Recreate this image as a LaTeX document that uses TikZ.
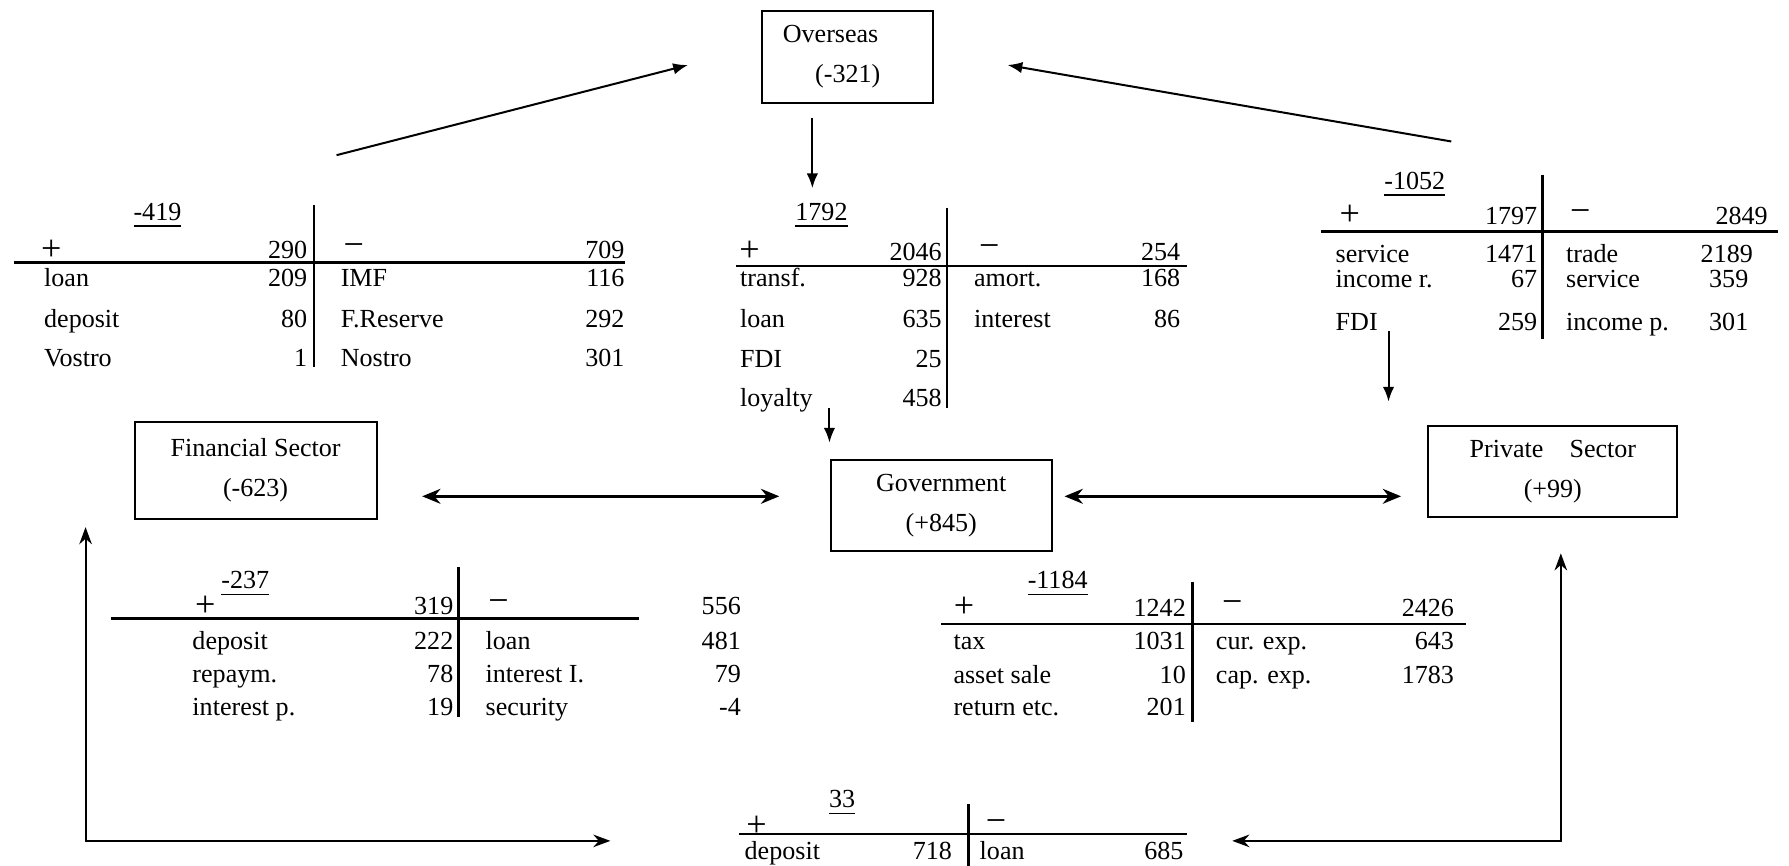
\documentclass[tikz,border=0pt]{standalone}
\usepackage{fontspec}
\setmainfont{Liberation Serif}
\usetikzlibrary{arrows.meta}

\begin{document}
\begin{tikzpicture}[
    every node/.style={font=\fontsize{6.5}{10}\selectfont},
    box/.style={draw, line width=0.5pt, align=center, inner sep=0pt},
    lab/.style={anchor=base west, inner sep=0pt},
    num/.style={anchor=base east, inner sep=0pt},
    sgn/.style={inner sep=0pt, font=\fontsize{9}{9}\selectfont},
    rule/.style={line width=0.6pt},
    flow/.style={line width=0.5pt, -{Latex[length=0.13cm,width=0.1cm]}},
    both/.style={line width=0.8pt, {Stealth[length=0.16cm,width=0.13cm]}-{Stealth[length=0.16cm,width=0.13cm]}},
    back/.style={line width=0.5pt, {Stealth[length=0.15cm,width=0.11cm]}-{Stealth[length=0.15cm,width=0.11cm]}}
  ]
        \useasboundingbox (0,0) rectangle (15.68,7.59);

        % sectors
        \node[box, minimum width=1.50cm, minimum height=0.80cm] (ov) at (7.43,7.09) {Overseas\hspace*{0.3cm}\\(-321)};
        \node[box, minimum width=2.12cm, minimum height=0.85cm] (fin) at (2.24,3.465) {Financial Sector\\(-623)};
        \node[box, minimum width=1.94cm, minimum height=0.80cm] (gov) at (8.25,3.16) {Government\\(+845)};
        \node[box, minimum width=2.18cm, minimum height=0.80cm] (priv) at (13.61,3.46) {Private\quad Sector\\(+99)};

        % flow ends
        \coordinate (finUp) at (2.95,6.23);
        \coordinate (ovLeft) at (6.03,7.02);
        \coordinate (privUp) at (12.72,6.35);
        \coordinate (ovRight) at (8.83,7.02);
        \coordinate (ovDown) at (7.12,6.56);
        \coordinate (govTop) at (7.12,5.94);
        \coordinate (govIn) at (7.27,4.01);
        \coordinate (govInEnd) at (7.27,3.71);
        \coordinate (privIn) at (12.17,4.69);
        \coordinate (privInEnd) at (12.17,4.07);
        \coordinate (finRight) at (3.70,3.24);
        \coordinate (govLeft) at (6.83,3.24);
        \coordinate (govRight) at (9.33,3.24);
        \coordinate (privLeft) at (12.28,3.24);
        \coordinate (finBack) at (0.75,2.97);
        \coordinate (finCorner) at (0.75,0.22);
        \coordinate (bankLeft) at (5.35,0.22);
        \coordinate (privBack) at (13.68,2.74);
        \coordinate (privCorner) at (13.68,0.22);
        \coordinate (bankRight) at (10.80,0.22);

        \draw[flow] (finUp) -- (ovLeft);
        \draw[flow] (privUp) -- (ovRight);
        \draw[flow] (ovDown) -- (govTop);
        \draw[flow] (govIn) -- (govInEnd);
        \draw[flow] (privIn) -- (privInEnd);
        \draw[both] (finRight) -- (govLeft);
        \draw[both] (govRight) -- (privLeft);
        \draw[back] (finBack) -- (finCorner) -- (bankLeft);
        \draw[back] (privBack) -- (privCorner) -- (bankRight);

        % overseas - financial
        \draw[rule] (2.75,5.79) -- (2.75,4.37);
        \draw[rule] (0.12,5.29) -- (5.48,5.29);
        \node (a-t) at (1.38,5.66) [anchor=base] {\underline{-419}};
        \node[sgn] (a-p) at (0.45,5.40) {+};
        \node[num] (a-ps) at (2.70,5.32) {290};
        \node[sgn] (a-m) at (3.10,5.40) {−};
        \node[num] (a-ms) at (5.48,5.32) {709};
        \node[lab] (a-l1) at (0.38,5.08) {loan};
        \node[num] (a-n1) at (2.70,5.08) {209};
        \node[lab] (a-r1) at (2.98,5.08) {IMF};
        \node[num] (a-v1) at (5.48,5.08) {116};
        \node[lab] (a-l2) at (0.38,4.72) {deposit};
        \node[num] (a-n2) at (2.70,4.72) {80};
        \node[lab] (a-r2) at (2.98,4.72) {F.Reserve};
        \node[num] (a-v2) at (5.48,4.72) {292};
        \node[lab] (a-l3) at (0.38,4.38) {Vostro};
        \node[num] (a-n3) at (2.70,4.38) {1};
        \node[lab] (a-r3) at (2.98,4.38) {Nostro};
        \node[num] (a-v3) at (5.48,4.38) {301};

        % overseas - government
        \draw[rule] (8.30,5.77) -- (8.30,4.01);
        \draw[rule] (6.45,5.26) -- (10.40,5.26);
        \node (b-t) at (7.20,5.66) [anchor=base] {\underline{1792}};
        \node[sgn] (b-p) at (6.57,5.39) {+};
        \node[num] (b-ps) at (8.26,5.31) {2046};
        \node[sgn] (b-m) at (8.67,5.39) {−};
        \node[num] (b-ms) at (10.35,5.31) {254};
        \node[lab] (b-l1) at (6.48,5.08) {transf.};
        \node[num] (b-n1) at (8.26,5.08) {928};
        \node[lab] (b-r1) at (8.53,5.08) {amort.};
        \node[num] (b-v1) at (10.35,5.08) {168};
        \node[lab] (b-l2) at (6.48,4.72) {loan};
        \node[num] (b-n2) at (8.26,4.72) {635};
        \node[lab] (b-r2) at (8.53,4.72) {interest};
        \node[num] (b-v2) at (10.35,4.72) {86};
        \node[lab] (b-l3) at (6.48,4.37) {FDI};
        \node[num] (b-n3) at (8.26,4.37) {25};
        \node[lab] (b-l4) at (6.48,4.03) {loyalty};
        \node[num] (b-n4) at (8.26,4.03) {458};

        % overseas - private
        \draw[rule] (13.52,6.06) -- (13.52,4.62);
        \draw[rule] (11.58,5.56) -- (15.58,5.56);
        \node (c-t) at (12.40,5.93) [anchor=base] {\underline{-1052}};
        \node[sgn] (c-p) at (11.83,5.70) {+};
        \node[num] (c-ps) at (13.48,5.62) {1797};
        \node[sgn] (c-m) at (13.85,5.70) {−};
        \node[num] (c-ms) at (15.50,5.62) {2849};
        \node[lab] (c-l1) at (11.70,5.29) {service};
        \node[num] (c-n1) at (13.48,5.29) {1471};
        \node[lab] (c-r1) at (13.72,5.29) {trade};
        \node[num] (c-v1) at (15.37,5.29) {2189};
        \node[lab] (c-l2) at (11.70,5.07) {income r.};
        \node[num] (c-n2) at (13.48,5.07) {67};
        \node[lab] (c-r2) at (13.72,5.07) {service};
        \node[num] (c-v2) at (15.33,5.07) {359};
        \node[lab] (c-l3) at (11.70,4.69) {FDI};
        \node[num] (c-n3) at (13.48,4.69) {259};
        \node[lab] (c-r3) at (13.72,4.69) {income p.};
        \node[num] (c-v3) at (15.33,4.69) {301};

        % financial - government
        \draw[rule] (4.02,2.62) -- (4.02,1.31);
        \draw[rule] (0.97,2.17) -- (5.60,2.17);
        \node (d-t) at (2.15,2.43) [anchor=base] {\underline{-237}};
        \node[sgn] (d-p) at (1.80,2.28) {+};
        \node[num] (d-ps) at (3.98,2.20) {319};
        \node[sgn] (d-m) at (4.37,2.28) {−};
        \node[num] (d-ms) at (6.50,2.20) {556};
        \node[lab] (d-l1) at (1.68,1.90) {deposit};
        \node[num] (d-n1) at (3.98,1.90) {222};
        \node[lab] (d-r1) at (4.25,1.90) {loan};
        \node[num] (d-v1) at (6.50,1.90) {481};
        \node[lab] (d-l2) at (1.68,1.61) {repaym.};
        \node[num] (d-n2) at (3.98,1.61) {78};
        \node[lab] (d-r2) at (4.25,1.61) {interest I.};
        \node[num] (d-v2) at (6.50,1.61) {79};
        \node[lab] (d-l3) at (1.68,1.32) {interest p.};
        \node[num] (d-n3) at (3.98,1.32) {19};
        \node[lab] (d-r3) at (4.25,1.32) {security};
        \node[num] (d-v3) at (6.50,1.32) {-4};

        % government - private
        \draw[rule] (10.45,2.49) -- (10.45,1.26);
        \draw[rule] (8.25,2.12) -- (12.85,2.12);
        \node (e-t) at (9.27,2.43) [anchor=base] {\underline{-1184}};
        \node[sgn] (e-p) at (8.45,2.27) {+};
        \node[num] (e-ps) at (10.40,2.19) {1242};
        \node[sgn] (e-m) at (10.80,2.27) {−};
        \node[num] (e-ms) at (12.75,2.19) {2426};
        \node[lab] (e-l1) at (8.35,1.90) {tax};
        \node[num] (e-n1) at (10.40,1.90) {1031};
        \node[lab] (e-r1) at (10.65,1.90) {cur. exp.};
        \node[num] (e-v1) at (12.75,1.90) {643};
        \node[lab] (e-l2) at (8.35,1.60) {asset sale};
        \node[num] (e-n2) at (10.40,1.60) {10};
        \node[lab] (e-r2) at (10.65,1.60) {cap. exp.};
        \node[num] (e-v2) at (12.75,1.60) {1783};
        \node[lab] (e-l3) at (8.35,1.32) {return etc.};
        \node[num] (e-n3) at (10.40,1.32) {201};

        % financial - private
        \draw[rule] (8.49,0.54) -- (8.49,0);
        \draw[rule] (6.48,0.28) -- (10.40,0.28);
        \node (f-t) at (7.38,0.51) [anchor=base] {\underline{33}};
        \node[sgn] (f-p) at (6.63,0.35) {+};
        \node[sgn] (f-m) at (8.73,0.35) {−};
        \node[lab] (f-l1) at (6.52,0.06) {deposit};
        \node[num] (f-n1) at (8.35,0.06) {718};
        \node[lab] (f-r1) at (8.58,0.06) {loan};
        \node[num] (f-v1) at (10.38,0.06) {685};
\end{tikzpicture}
\end{document}
